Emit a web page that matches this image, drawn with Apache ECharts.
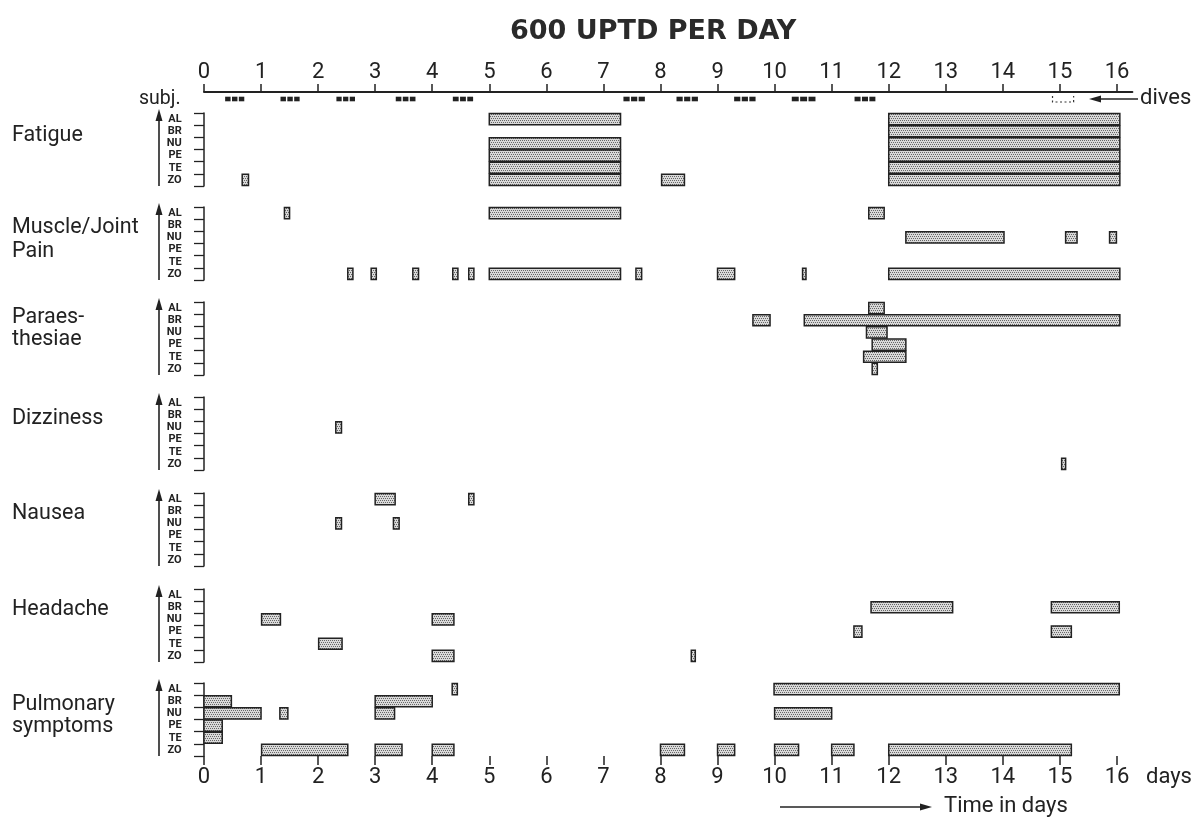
<!DOCTYPE html>
<html>
<head>
<meta charset="utf-8">
<script src="https://cdn.jsdelivr.net/npm/echarts@6/dist/echarts.min.js"></script>
<style>html,body{margin:0;padding:0;background:#fff}#chart{width:1199px;height:820px}</style>
</head>
<body>
<div id="chart"></div>
<script>
// ---------- DATA ----------
const subjects = ['AL', 'BR', 'NU', 'PE', 'TE', 'ZO'];
const dayTicks = [0, 1, 2, 3, 4, 5, 6, 7, 8, 9, 10, 11, 12, 13, 14, 15, 16];
const symptomNames = ['Fatigue', 'Muscle/Joint\nPain', 'Paraes-\nthesiae', 'Dizziness', 'Nausea', 'Headache', 'Pulmonary\nsymptoms'];

// [subject, start day, end day]
const fatigue = [['AL',5,7.3],['AL',12,16.05],['BR',12,16.05],['NU',5,7.3],['NU',12,16.05],['PE',5,7.3],['PE',12,16.05],
  ['TE',5,7.3],['TE',12,16.05],['ZO',0.67,0.78],['ZO',5,7.3],['ZO',8.02,8.42],['ZO',12,16.05]];
const musclePain = [['AL',1.41,1.5],['AL',5,7.3],['AL',11.65,11.92],['NU',12.3,14.02],['NU',15.1,15.3],['NU',15.87,15.99],
  ['ZO',2.52,2.61],['ZO',2.93,3.02],['ZO',3.66,3.76],['ZO',4.36,4.45],['ZO',4.64,4.73],['ZO',5,7.3],['ZO',7.57,7.67],
  ['ZO',9,9.3],['ZO',10.49,10.55],['ZO',12,16.05]];
const paraesthesiae = [['AL',11.65,11.92],['BR',9.62,9.92],['BR',10.52,16.05],['NU',11.61,11.97],['PE',11.71,12.3],
  ['TE',11.56,12.3],['ZO',11.71,11.8]];
const dizziness = [['NU',2.31,2.41],['ZO',15.03,15.1]];
const nausea = [['AL',3.0,3.35],['AL',4.64,4.73],['NU',2.31,2.41],['NU',3.32,3.42]];
const headache = [['BR',11.69,13.12],['BR',14.85,16.04],['NU',1.01,1.34],['NU',4.0,4.38],['PE',11.39,11.53],['PE',14.85,15.2],
  ['TE',2.01,2.42],['ZO',4.0,4.38],['ZO',8.54,8.61]];
const pulmonary = [['AL',4.35,4.44],['AL',9.99,16.04],['BR',0,0.48],['BR',3.0,4.0],['NU',0,1.0],['NU',1.33,1.47],['NU',3.0,3.34],
  ['NU',10.0,11.0],['PE',0,0.32],['TE',0,0.32],['ZO',1.01,2.52],['ZO',3.0,3.47],['ZO',4.0,4.38],['ZO',8.0,8.42],['ZO',9.0,9.3],
  ['ZO',10.0,10.42],['ZO',11.0,11.39],['ZO',12.0,15.2]];

const dives = [[0.36,0.72],[1.33,1.69],[2.31,2.66],[3.35,3.72],[4.35,4.73],[7.34,7.74],[8.27,8.67],[9.28,9.68],[10.29,10.73],[11.39,11.78]];
const uncertainDives = [[14.87,15.24]];

const symptomData = [fatigue, musclePain, paraesthesiae, dizziness, nausea, headache, pulmonary];

// ---------- LAYOUT / STYLE ----------
const FONT = 'Roboto, "DejaVu Sans", sans-serif';
const INK = '#222';
const panelTops = [113, 207, 302, 397, 493, 589, 683];
const panelH = 73;
const labelYs = [[136], [228, 252], [318, 340], [419], [514], [610], [705, 727]];
const GRID_LEFT = 193.7, GRID_RIGHT = 66.6;

function makePattern() {
  const c = document.createElement('canvas');
  c.width = 4; c.height = 4;
  const g = c.getContext('2d');
  g.fillStyle = '#d9d9d9'; g.fillRect(0, 0, 4, 4);
  g.fillStyle = '#666666';
  [[0,0],[2,0],[1,2],[3,2]].forEach(p => g.fillRect(p[0], p[1], 1, 1));
  return c;
}
const pattern = { type: 'pattern', image: makePattern(), repeat: 'repeat' };

const chart = echarts.init(document.getElementById('chart'), null, { renderer: 'canvas' });

const grids = [{ left: 204, right: GRID_RIGHT, top: 92, height: 14 }];
const xAxes = [{
  gridIndex: 0, type: 'value', position: 'top', min: 0, max: 16.27,
  axisLine: { onZero: false, lineStyle: { color: INK, width: 2 } },
  axisTick: { customValues: dayTicks, length: 8, lineStyle: { color: INK, width: 1.5 } },
  axisLabel: { customValues: dayTicks, fontSize: 22, margin: 9, color: INK, fontFamily: FONT },
  splitLine: { show: false }
}];
const yAxes = [{ gridIndex: 0, type: 'value', min: 0, max: 1, show: false }];
const series = [];

function barRender(params, api) {
  const s = api.coord([api.value(0), api.value(2)]);
  const e = api.coord([api.value(1), api.value(2)]);
  const h = api.size([0, 1])[1];
  return {
    type: 'rect',
    shape: { x: s[0], y: s[1] - h / 2 + 0.5, width: Math.max(e[0] - s[0], 3), height: h - 1 },
    style: { fill: pattern, stroke: '#222', lineWidth: 1.5 }
  };
}

symptomData.forEach((arr, i) => {
  const gi = i + 1;
  const last = i === symptomData.length - 1;
  grids.push({ left: GRID_LEFT, right: GRID_RIGHT, top: panelTops[i], height: panelH });
  xAxes.push({
    gridIndex: gi, type: 'value', min: -0.18, max: 16.27,
    axisLine: { onZero: false, lineStyle: { color: INK, width: 2.5 } },
    axisTick: { show: last, customValues: dayTicks, length: 9, lineStyle: { color: INK, width: 1.5 } },
    axisLabel: { show: last, customValues: dayTicks, fontSize: 22, margin: 10, color: INK, fontFamily: FONT },
    splitLine: { show: false }
  });
  yAxes.push({
    gridIndex: gi, type: 'category', data: subjects, inverse: true,
    axisLine: { show: true, onZero: true, lineStyle: { color: INK, width: 1.5 } },
    axisTick: { show: true, interval: 0, length: 10, lineStyle: { color: INK, width: 1.3 } },
    axisLabel: { interval: 0, fontSize: 11, margin: 12, color: INK, fontFamily: FONT, fontWeight: 'bold', lineHeight: 11 },
    splitLine: { show: false }
  });
  series.push({
    type: 'custom', xAxisIndex: gi, yAxisIndex: gi,
    renderItem: barRender,
    encode: { x: [0, 1], y: 2 },
    data: arr.map(d => [d[1], d[2], subjects.indexOf(d[0])]),
    silent: true, animation: false
  });
});

// dives
series.push({
  type: 'custom', xAxisIndex: 0, yAxisIndex: 0, silent: true, animation: false,
  data: dives,
  encode: { x: [0, 1] },
  renderItem: function (params, api) {
    const s = api.coord([api.value(0), 0.5]);
    const e = api.coord([api.value(1), 0.5]);
    const w = (e[0] - s[0]) / 3;
    const children = [];
    for (let k = 0; k < 3; k++) {
      children.push({ type: 'rect', shape: { x: s[0] + k * w + 0.6, y: s[1] - 2.3, width: w - 1.4, height: 4.6 }, style: { fill: '#222' } });
    }
    return { type: 'group', children };
  }
});
series.push({
  type: 'custom', xAxisIndex: 0, yAxisIndex: 0, silent: true, animation: false,
  data: uncertainDives,
  encode: { x: [0, 1] },
  renderItem: function (params, api) {
    const s = api.coord([api.value(0), 0.5]);
    const e = api.coord([api.value(1), 0.5]);
    return {
      type: 'polyline',
      shape: { points: [[s[0], s[1] - 3], [s[0], s[1] + 3], [e[0], s[1] + 3], [e[0], s[1] - 3]] },
      style: { stroke: '#333', lineWidth: 1.2, lineDash: [2, 2.5], fill: null }
    };
  }
});

// decorations
const graphic = [];
const txt = (x, y, t, size, extra) => Object.assign({
  type: 'text', x, y, silent: true,
  style: { text: t, fontSize: size, fontFamily: FONT, fill: INK, textVerticalAlign: 'middle', verticalAlign: 'middle' }
}, extra || {});

symptomNames.forEach((name, i) => {
  const lines = name.split('\n');
  lines.forEach((ln, k) => graphic.push(txt(12, labelYs[i][k], ln, 21.5)));
  const t = panelTops[i], b = t + panelH;
  graphic.push({ type: 'line', silent: true, shape: { x1: 159, y1: b, x2: 159, y2: t + 4 }, style: { stroke: INK, lineWidth: 1.6 } });
  graphic.push({ type: 'polygon', silent: true, shape: { points: [[159, t - 4], [155.5, t + 8], [162.5, t + 8]] }, style: { fill: INK } });
});
graphic.push(txt(139, 99, 'subj.', 19.5));
graphic.push(txt(1140, 98, 'dives', 22));
graphic.push({ type: 'line', silent: true, shape: { x1: 1100, y1: 99, x2: 1138, y2: 99 }, style: { stroke: INK, lineWidth: 1.6 } });
graphic.push({ type: 'polygon', silent: true, shape: { points: [[1089, 99], [1101, 95.5], [1101, 102.5]] }, style: { fill: INK } });
graphic.push(txt(1146, 777, 'days', 22));
graphic.push(txt(944, 806, 'Time in days', 22));
graphic.push({ type: 'line', silent: true, shape: { x1: 780, y1: 807, x2: 921, y2: 807 }, style: { stroke: INK, lineWidth: 1.6 } });
graphic.push({ type: 'polygon', silent: true, shape: { points: [[932, 807], [920, 803.5], [920, 810.5]] }, style: { fill: INK } });

chart.setOption({
  backgroundColor: '#ffffff',
  animation: false,
  title: { text: '600 UPTD PER DAY', left: 505, top: 13, textStyle: { fontSize: 27, fontWeight: 'bold', color: '#2a2a2a', fontFamily: '"DejaVu Sans", sans-serif' } },
  grid: grids,
  xAxis: xAxes,
  yAxis: yAxes,
  series: series,
  graphic: graphic
});
</script>
</body>
</html>
